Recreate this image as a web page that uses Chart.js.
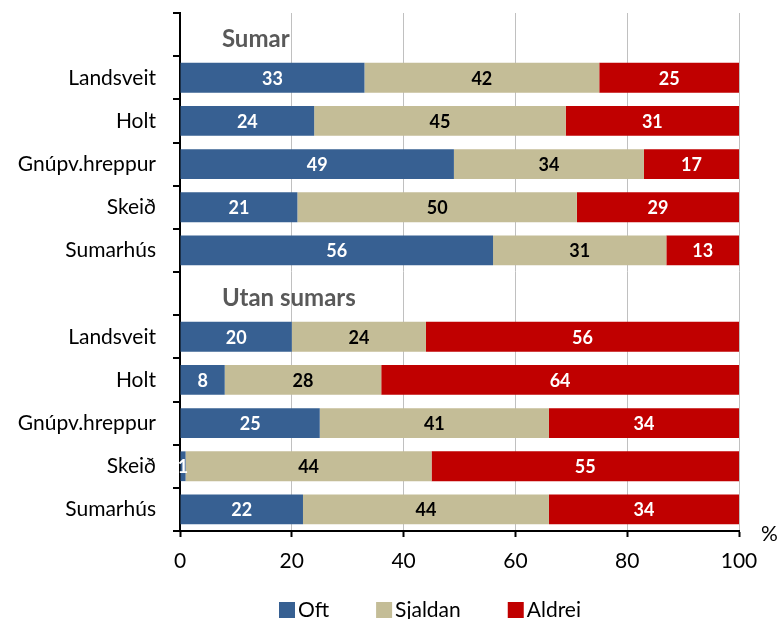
<!DOCTYPE html>
<html>
<head>
<meta charset="utf-8">
<script src="https://cdn.jsdelivr.net/npm/chart.js@4"></script>
<style>
  html, body { margin: 0; padding: 0; background: #ffffff; }
  #chart { display: block; }
</style>
</head>
<body>
<canvas id="chart" width="777" height="619"></canvas>
<script>
// rows: empty rows 0 and 6 hold the group titles
const categories = ["", "Landsveit", "Holt", "Gnúpv.hreppur", "Skeið", "Sumarhús",
                    "", "Landsveit", "Holt", "Gnúpv.hreppur", "Skeið", "Sumarhús"];
const groupTitles = ["Sumar", "Utan sumars"];
const groupRows = [0, 6];

const oft     = [null, 33, 24, 49, 21, 56, null, 20,  8, 25,  1, 22];
const sjaldan = [null, 42, 45, 34, 50, 31, null, 24, 28, 41, 44, 44];
const aldrei  = [null, 25, 31, 17, 29, 13, null, 56, 64, 34, 55, 34];

const xTicks = [0, 20, 40, 60, 80, 100];

const FONT = "Lato";

// values inside the bars
const barLabels = {
  id: "barLabels",
  afterDatasetsDraw(chart) {
    const ctx = chart.ctx;
    ctx.save();
    ctx.font = "bold 18px " + FONT;
    ctx.textAlign = "center";
    ctx.textBaseline = "middle";
    chart.data.datasets.forEach((ds, i) => {
      const meta = chart.getDatasetMeta(i);
      meta.data.forEach((bar, j) => {
        const v = ds.data[j];
        if (v === null) return;
        ctx.fillStyle = ds.labelColor;
        ctx.fillText(String(v), (bar.x + bar.base) / 2, bar.y + 1);
      });
    });
    ctx.restore();
  }
};

// group titles, "%" and the legend
const extras = {
  id: "extras",
  afterDraw(chart) {
    const ctx = chart.ctx;
    const x = chart.scales.x, y = chart.scales.y;
    ctx.save();
    ctx.font = "bold 24px " + FONT;
    ctx.fillStyle = "#595959";
    ctx.textAlign = "left";
    ctx.textBaseline = "middle";
    groupRows.forEach((r, i) => {
      ctx.fillText(groupTitles[i], x.getPixelForValue(7.5), y.getPixelForValue(r) + 5);
    });

    ctx.font = "21px " + FONT;
    ctx.fillStyle = "#000000";
    ctx.fillText("%", chart.chartArea.right + 22, chart.chartArea.bottom + 3);

    // legend
    let lx = 279;
    const ly = 602;
    chart.data.datasets.forEach(ds => {
      ctx.fillStyle = ds.backgroundColor;
      ctx.fillRect(lx, ly, 16, 16);
      ctx.fillStyle = "#000000";
      ctx.fillText(ds.label, lx + 19, ly + 8);
      lx += 19 + ctx.measureText(ds.label).width + 47;
    });
    ctx.restore();
  }
};

new Chart(document.getElementById("chart"), {
  type: "bar",
  data: {
    labels: categories,
    datasets: [
      { label: "Oft", data: oft, backgroundColor: "#376092", labelColor: "#ffffff" },
      { label: "Sjaldan", data: sjaldan, backgroundColor: "#C4BD97", labelColor: "#000000" },
      { label: "Aldrei", data: aldrei, backgroundColor: "#C00000", labelColor: "#ffffff" }
    ]
  },
  options: {
    indexAxis: "y",
    responsive: false,
    animation: false,
    devicePixelRatio: 1,
    layout: { padding: { left: 0, right: 38, top: 13, bottom: 0 } },
    datasets: {
      bar: { categoryPercentage: 1, barPercentage: 0.69, borderWidth: 0 }
    },
    plugins: {
      legend: { display: false },
      tooltip: { enabled: false }
    },
    scales: {
      x: {
        stacked: true,
        min: 0,
        max: 100,
        afterBuildTicks(scale) { scale.ticks = xTicks.map(v => ({ value: v })); },
        afterFit(scale) { scale.height = 88; },
        grid: { color: "#c0c0c0", lineWidth: 1, tickLength: 6, tickColor: "#000000", tickWidth: 2 },
        border: { color: "#000000", width: 2 },
        ticks: { color: "#000000", font: { family: FONT, size: 21 }, padding: 12, maxRotation: 0 }
      },
      y: {
        stacked: true,
        afterFit(scale) {
          scale.width = 180;
          scale.paddingTop = 0;
          scale.paddingBottom = 0;
        },
        grid: { drawOnChartArea: false, tickLength: 7, color: "#000000", lineWidth: 2 },
        border: { color: "#000000", width: 2 },
        ticks: { color: "#000000", font: { family: FONT, size: 21 }, padding: 17, autoSkip: false }
      }
    }
  },
  plugins: [barLabels, extras]
});
</script>
</body>
</html>
